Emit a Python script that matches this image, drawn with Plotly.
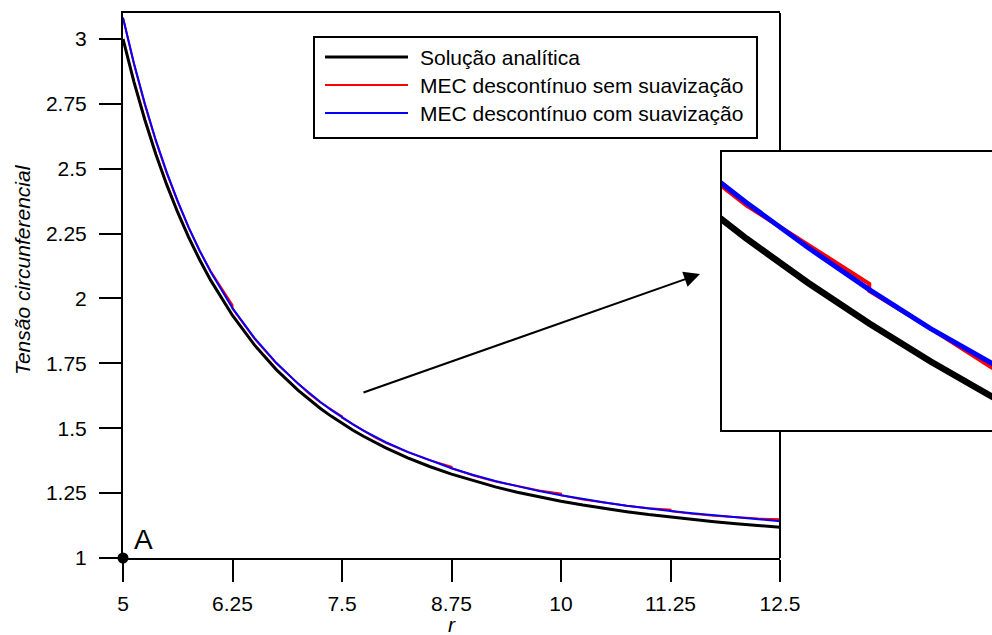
import plotly.graph_objects as go

# ---------------- data ----------------
r_analytic = [5.0, 5.125, 5.25, 5.375, 5.5, 5.625, 5.75, 5.875, 6.0, 6.25, 6.5, 6.75,
              7.0, 7.125, 7.25, 7.375, 7.5, 7.625, 7.75, 7.875, 8.0, 8.25, 8.5, 8.75,
              9.0, 9.25, 9.5, 9.75, 10.0, 10.25, 10.5, 10.75, 11.0, 11.25, 11.5,
              11.75, 12.0, 12.25, 12.5]
s_analytic = [3.0000, 2.8348, 2.6876, 2.5559, 2.4377, 2.3315, 2.2357, 2.1491, 2.0706,
              1.9344, 1.8211, 1.7259, 1.6456, 1.6100, 1.5771, 1.5467, 1.5185, 1.4923,
              1.4680, 1.4453, 1.4242, 1.3861, 1.3526, 1.3232, 1.2972, 1.2742, 1.2536,
              1.2352, 1.2188, 1.2039, 1.1905, 1.1784, 1.1673, 1.1573, 1.1481, 1.1397,
              1.1320, 1.1249, 1.1184]

r_smooth = list(r_analytic)
s_smooth = [3.082, 2.906, 2.750, 2.610, 2.486, 2.375, 2.274, 2.184, 2.103, 1.963,
            1.848, 1.752, 1.671, 1.635, 1.602, 1.571, 1.542, 1.515, 1.490, 1.467,
            1.446, 1.409, 1.376, 1.346, 1.320, 1.297, 1.277, 1.258, 1.242, 1.227,
            1.214, 1.201, 1.190, 1.181, 1.172, 1.164, 1.156, 1.149, 1.142]

r_raw = [5.0, 5.125, 5.25, 5.375, 5.5, 5.625, 5.75, 5.875, 6.0, 6.25,
         6.25, 6.5, 6.75, 7.0, 7.125, 7.25, 7.375, 7.5,
         7.5, 7.625, 7.75, 7.875, 8.0, 8.25, 8.5, 8.75,
         8.75, 9.0, 9.25, 9.5, 9.75, 10.0,
         10.0, 10.25, 10.5, 10.75, 11.0, 11.25,
         11.25, 11.5, 11.75, 12.0, 12.25, 12.5]
s_raw = [3.082, 2.903, 2.746, 2.606, 2.482, 2.372, 2.272, 2.184, 2.106, 1.975,
         1.961, 1.845, 1.750, 1.671, 1.633, 1.600, 1.573, 1.546,
         1.541, 1.515, 1.488, 1.465, 1.444, 1.408, 1.377, 1.352,
         1.346, 1.318, 1.295, 1.277, 1.260, 1.248,
         1.242, 1.225, 1.213, 1.201, 1.192, 1.186,
         1.181, 1.170, 1.163, 1.157, 1.152, 1.149]

x_ticks = [5, 6.25, 7.5, 8.75, 10, 11.25, 12.5]
x_ticktext = ["5", "6.25", "7.5", "8.75", "10", "11.25", "12.5"]
y_ticks = [1, 1.25, 1.5, 1.75, 2, 2.25, 2.5, 2.75, 3]
y_ticktext = ["1", "1.25", "1.5", "1.75", "2", "2.25", "2.5", "2.75", "3"]

series_names = ["Solução analítica", "MEC descontínuo sem suavização",
                "MEC descontínuo com suavização"]
series_colors = ["#000000", "#ff0000", "#0000ff"]

point_r = [5]
point_s = [1]
point_label = "A"

# ---------------- layout helpers ----------------
W, H = 992, 635
ML, MR, MT, MB = 123, 0, 13, 77
PW, PH = W - ML - MR, H - MT - MB
FONT = "Liberation Sans, Arial, sans-serif"
FS = 21


def px(xs):
    """screen x pixel -> paper fraction"""
    return (xs - ML) / PW


def py(ys):
    """screen y pixel -> paper fraction"""
    return (H - MB - ys) / PH


fig = go.Figure()

main_widths = [3, 2, 2]
inset_widths = [6.5, 4, 5]
data = [(r_analytic, s_analytic), (r_raw, s_raw), (r_smooth, s_smooth)]

for (xs, ys), name, col, w in zip(data, series_names, series_colors, main_widths):
    fig.add_trace(go.Scatter(x=xs, y=ys, mode="lines", name=name,
                             line=dict(color=col, width=w),
                             xaxis="x", yaxis="y", showlegend=False))

for (xs, ys), name, col, w in zip(data, series_names, series_colors, inset_widths):
    fig.add_trace(go.Scatter(x=xs, y=ys, mode="lines", name=name,
                             line=dict(color=col, width=w),
                             xaxis="x2", yaxis="y2", showlegend=False))

fig.add_trace(go.Scatter(x=point_r, y=point_s, mode="markers",
                         marker=dict(color="black", size=11),
                         cliponaxis=False, showlegend=False,
                         xaxis="x", yaxis="y"))

axis_common = dict(showline=True, linewidth=2, linecolor="black", showgrid=False,
                   zeroline=False, ticks="outside", ticklen=22, tickwidth=2,
                   tickcolor="black", automargin=False,
                   tickfont=dict(size=FS, family=FONT, color="black"))

fig.update_layout(
    width=W, height=H,
    margin=dict(l=ML, r=MR, t=MT, b=MB, autoexpand=False),
    paper_bgcolor="white", plot_bgcolor="white",
    font=dict(family=FONT, color="black"),
    showlegend=False,
    xaxis=dict(domain=[0, px(780)], range=[5, 12.5], tickvals=x_ticks,
               ticktext=x_ticktext, mirror=True, anchor="y",
               ticklabelstandoff=4, **axis_common),
    yaxis=dict(domain=[0, 1], range=[1, 3.1], tickvals=y_ticks,
               ticktext=y_ticktext, mirror=False, anchor="x",
               ticklabelstandoff=8, **axis_common),
    xaxis2=dict(domain=[px(722), 1], range=[7.2, 7.75], anchor="y2",
                showline=True, linewidth=2, linecolor="black", mirror=True,
                showgrid=False, zeroline=False, showticklabels=False, ticks=""),
    yaxis2=dict(domain=[py(430), py(152)], range=[1.445, 1.637], anchor="x2",
                showline=True, linewidth=2, linecolor="black", mirror=False,
                showgrid=False, zeroline=False, showticklabels=False, ticks=""),
)

shapes = [
    # right frame of the main plot, interrupted where the inset sits
    dict(type="line", xref="paper", yref="paper", x0=px(780), x1=px(780),
         y0=py(13), y1=py(151), line=dict(color="black", width=2)),
    dict(type="line", xref="paper", yref="paper", x0=px(780), x1=px(780),
         y0=py(431), y1=py(558), line=dict(color="black", width=2)),
    # legend box
    dict(type="rect", xref="paper", yref="paper", x0=px(314), x1=px(757),
         y0=py(138), y1=py(37), line=dict(color="black", width=2),
         fillcolor="white", layer="above"),
]
annotations = []
legend_rows = [57, 85, 113]
for name, col, w, yrow in zip(series_names, series_colors, [3, 2, 2], legend_rows):
    shapes.append(dict(type="line", xref="paper", yref="paper", x0=px(325), x1=px(408),
                       y0=py(yrow), y1=py(yrow), line=dict(color=col, width=w),
                       layer="above"))
    annotations.append(dict(xref="paper", yref="paper", x=px(418), y=py(yrow),
                            text=name, showarrow=False, xanchor="left",
                            yanchor="middle", font=dict(size=FS, family=FONT,
                                                        color="black")))

# axis titles
annotations.append(dict(xref="paper", yref="paper", x=px(451.5), y=py(624),
                        text="<i>r</i>", showarrow=False, xanchor="center",
                        yanchor="middle", font=dict(size=FS, family=FONT)))
annotations.append(dict(xref="paper", yref="paper", x=px(22), y=py(270),
                        text="<i>Tensão circunferencial</i>", textangle=-90,
                        showarrow=False, xanchor="center", yanchor="middle",
                        font=dict(size=FS, family=FONT)))
# point label
annotations.append(dict(xref="x", yref="y", x=point_r[0], y=point_s[0],
                        text=point_label, showarrow=False, xanchor="center",
                        yanchor="middle", xshift=20, yshift=19,
                        font=dict(size=28, family=FONT)))
# arrow towards inset
annotations.append(dict(xref="paper", yref="paper", x=px(700), y=py(274),
                        ax=-338, ay=119, text="", showarrow=True, arrowhead=2,
                        arrowsize=1.6, arrowwidth=2, arrowcolor="black",
                        standoff=0))

fig.update_layout(shapes=shapes, annotations=annotations)

fig.write_html("out.html",
               config={"displayModeBar": False},
               post_script="document.body.style.margin='0';"
                           "document.body.style.overflow='hidden';")
